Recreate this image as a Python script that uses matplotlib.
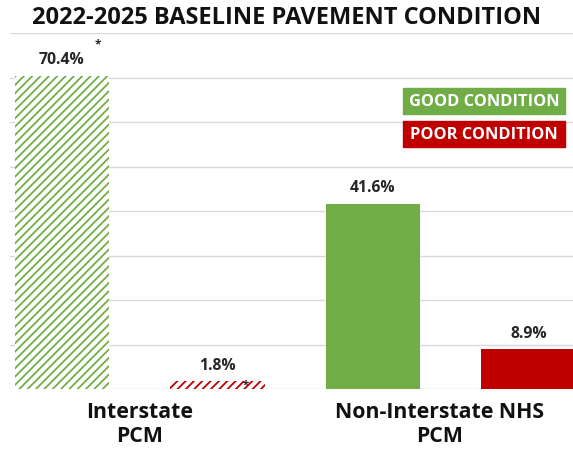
import numpy as np
import matplotlib.pyplot as plt
from matplotlib.patches import Rectangle

# data
categories = ["Interstate\nPCM", "Non-Interstate NHS\nPCM"]
good = [70.4, 41.6]
poor = [1.8, 8.9]
hatched = [True, False]
good_color = "#70AD47"
poor_color = "#C00000"

plt.rcParams['font.family'] = ['Open Sans', 'DejaVu Sans']
plt.rcParams['hatch.linewidth'] = 1.3

fig = plt.figure(figsize=(5.73, 4.56), dpi=100)
ax = fig.add_axes([10 / 573, 66 / 456, 563 / 573, 356 / 456])

width = 0.61
for i in range(len(categories)):
    xg = 2 * i
    xp = 2 * i + 1
    if hatched[i]:
        ax.bar(xg, good[i], width, color="white", edgecolor=good_color,
               hatch="////", linewidth=0, zorder=2)
        ax.bar(xp, poor[i], width, color="white", edgecolor=poor_color,
               hatch="////", linewidth=0, zorder=2)
    else:
        ax.bar(xg, good[i], width, color=good_color, zorder=2)
        ax.bar(xp, poor[i], width, color=poor_color, zorder=2)
    ax.text(xg, good[i] + 1.9, "%.1f%%" % good[i], ha="center", va="bottom",
            fontsize=11.3, fontweight="bold", color="#262626")
    ax.text(xp, poor[i] + 1.9, "%.1f%%" % poor[i], ha="center", va="bottom",
            fontsize=11.3, fontweight="bold", color="#262626")

# asterisks marking the hatched (baseline) values
ax.text(0.23, good[0] + 5.6, "*", ha="center", va="bottom", fontsize=8.5,
        fontweight="bold", color="#262626")
ax.text(1.18, poor[0] - 2.0, "*", ha="center", va="bottom", fontsize=8,
        fontweight="bold", color="#262626")

ax.set_xlim(-0.334, 3.286)
ax.set_ylim(0, 80)
ax.set_yticks(np.arange(0, 81, 10))
ax.yaxis.grid(True, color="#D9D9D9", linewidth=1.0, zorder=0)
ax.set_axisbelow(True)
ax.tick_params(left=False, bottom=False, labelleft=False)
for s in ax.spines.values():
    s.set_visible(False)

ax.set_xticks([0.5, 2.43])
ax.set_xticklabels(categories, fontsize=15.3, fontweight="bold",
                   color="#111111", linespacing=1.2)
ax.tick_params(axis="x", pad=5)

fig.text(0.5, 1 - 18 / 456, "2022-2025 BASELINE PAVEMENT CONDITION",
         ha="center", va="center", fontsize=17, fontweight="bold",
         color="#111111")

# legend boxes
for k, (label, col) in enumerate([("GOOD CONDITION", good_color),
                                  ("POOR CONDITION", poor_color)]):
    y0 = 1 - (115 + k * 33) / 456
    fig.patches.append(Rectangle((403 / 573, y0), 162 / 573, 26 / 456,
                                 transform=fig.transFigure, color=col,
                                 zorder=3))
    fig.text(484 / 573, y0 + 13 / 456, label, ha="center", va="center",
             fontsize=11.8, fontweight="bold", color="white", zorder=4)

fig.savefig("out.png", dpi=100)
